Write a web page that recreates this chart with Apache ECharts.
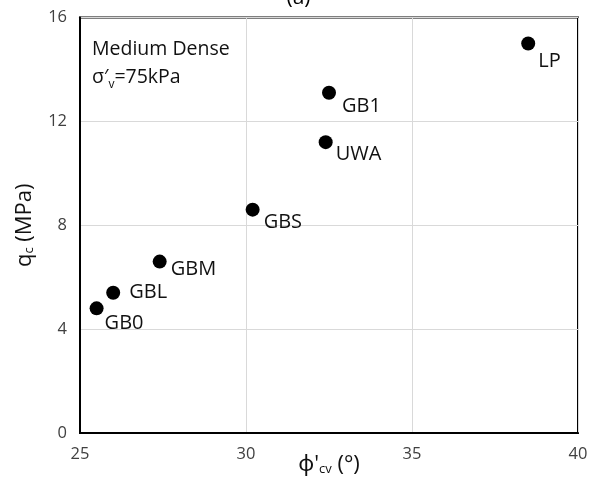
<!DOCTYPE html>
<html>
<head>
<meta charset="utf-8">
<script src="https://cdn.jsdelivr.net/npm/echarts@6/dist/echarts.min.js"></script>
<style>html,body{margin:0;padding:0;background:#fff;}#c{width:597px;height:478px;}</style>
</head>
<body>
<div id="c"></div>
<script>
// Data
const names = ['GB0', 'GBL', 'GBM', 'GBS', 'UWA', 'GB1', 'LP'];
const phiCv = [25.5, 26.0, 27.4, 30.2, 32.4, 32.5, 38.5];
const qc = [4.8, 5.4, 6.6, 8.6, 11.2, 13.1, 15.0];
const xTicks = [25, 30, 35, 40];
const yTicks = [0, 4, 8, 12, 16];

// label placement (style only)
const labelOffsets = [[1, 15], [9, 0], [4, 8], [4, 13], [3, 12], [6, 13], [3, 18]];

const FONT = '"Open Sans", "Noto Sans", sans-serif';
const chart = echarts.init(document.getElementById('c'), null, {renderer: 'canvas'});

const data = names.map((n, i) => ({
  value: [phiCv[i], qc[i]],
  name: n,
  label: {offset: labelOffsets[i]}
}));

chart.setOption({
  animation: false,
  backgroundColor: '#fff',
  title: {
    text: '(a)',
    left: 'center',
    top: -17,
    textStyle: {fontFamily: FONT, fontSize: 21, fontWeight: 'normal', color: '#000'}
  },
  grid: {left: 80, right: 19, top: 17.5, bottom: 45, outerBoundsMode: 'none', containLabel: false,
    show: true, borderColor: '#000', borderWidth: 2, backgroundColor: 'transparent'},
  xAxis: {
    type: 'value', min: xTicks[0], max: xTicks[xTicks.length - 1], interval: 5,
    name: "ϕ'{sub|cv} (°)",
    nameLocation: 'middle', nameGap: 21, nameMoveOverlap: false,
    nameTextStyle: {fontFamily: FONT, fontSize: 22, color: '#111',
      rich: {sub: {fontFamily: FONT, fontSize: 13, verticalAlign: 'bottom', padding: [9, 0, 0, 0], color: '#111'}}},
    axisLine: {show: true, lineStyle: {color: '#000', width: 2}},
    axisTick: {show: false},
    axisLabel: {fontFamily: FONT, fontSize: 16.5, color: '#404040', margin: 13},
    splitLine: {show: true, lineStyle: {color: '#d9d9d9', width: 1}}
  },
  yAxis: {
    type: 'value', min: yTicks[0], max: yTicks[yTicks.length - 1], interval: 4,
    name: 'q{sub|c} (MPa)',
    nameLocation: 'middle', nameGap: 44, nameMoveOverlap: false,
    nameTextStyle: {fontFamily: FONT, fontSize: 22, color: '#111',
      rich: {sub: {fontFamily: FONT, fontSize: 13, verticalAlign: 'bottom', padding: [9, 0, 0, 0], color: '#111'}}},
    axisLine: {show: true, lineStyle: {color: '#000', width: 2}},
    axisTick: {show: false},
    axisLabel: {fontFamily: FONT, fontSize: 16.5, color: '#404040', margin: 13},
    splitLine: {show: true, lineStyle: {color: '#d9d9d9', width: 1}}
  },
  graphic: [{
    type: 'text',
    left: 92, top: 35,
    style: {
      text: 'Medium Dense\nσ\u2032{sub|v}=75kPa',
      font: '19.5px ' + FONT,
      fill: '#111',
      lineHeight: 28,
      rich: {sub: {font: '12px ' + FONT, fill: '#111', verticalAlign: 'bottom', padding: [9, 0, 0, 0]}}
    }
  }],
  series: [{
    type: 'scatter',
    data: data,
    symbol: 'circle',
    symbolSize: 14,
    itemStyle: {color: '#000', opacity: 1},
    label: {
      show: true,
      position: 'right',
      distance: 0,
      formatter: p => p.name,
      fontFamily: FONT,
      fontSize: 20,
      color: '#111'
    }
  }]
});
</script>
</body>
</html>
